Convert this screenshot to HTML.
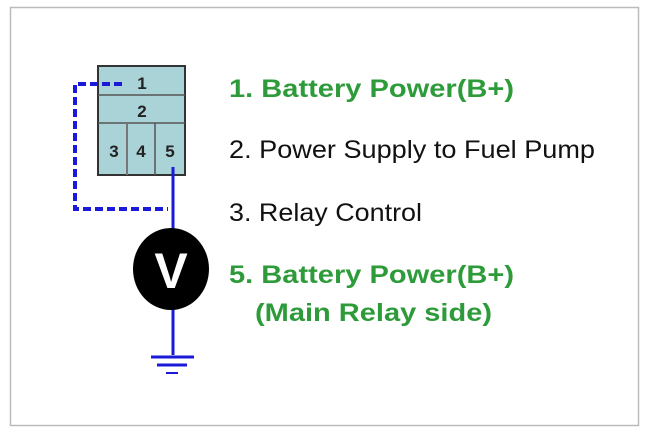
<!DOCTYPE html>
<html><head><style>
html,body{margin:0;padding:0;background:#fff;}
svg{display:block;}
text{font-family:"Liberation Sans",Arial,sans-serif;}
</style></head><body>
<svg width="646" height="438" viewBox="0 0 646 438">
<rect x="10.5" y="7.5" width="628" height="418" fill="#fff" stroke="#bbb" stroke-width="1.5"/>
<!-- connector -->
<rect x="98" y="66" width="87" height="109" fill="#a9d3d6" stroke="#333" stroke-width="2"/>
<line x1="98" y1="95" x2="185" y2="95" stroke="#555" stroke-width="1.5"/>
<line x1="98" y1="123" x2="185" y2="123" stroke="#555" stroke-width="1.5"/>
<line x1="127" y1="123" x2="127" y2="175" stroke="#777" stroke-width="2"/>
<line x1="155" y1="123" x2="155" y2="175" stroke="#555" stroke-width="1.5"/>
<g font-weight="bold" font-size="17" fill="#222" text-anchor="middle">
<text x="142" y="89">1</text>
<text x="142" y="117">2</text>
<text x="114" y="157">3</text>
<text x="141" y="157">4</text>
<text x="170" y="157">5</text>
</g>
<!-- dashed -->
<polyline points="122,84 75,84 75,209 168,209" fill="none" stroke="#1a1ad8" stroke-width="4" stroke-dasharray="8,4"/>
<!-- solid -->
<line x1="173" y1="167" x2="173" y2="355" stroke="#1a1ad8" stroke-width="3"/>
<ellipse cx="171" cy="269" rx="38" ry="41" fill="#000"/>
<text x="171" y="288" font-size="50" font-weight="bold" fill="#fff" text-anchor="middle">V</text>
<line x1="151" y1="357" x2="194" y2="357" stroke="#1a1ad8" stroke-width="3"/>
<line x1="157" y1="365" x2="187" y2="365" stroke="#1a1ad8" stroke-width="3"/>
<line x1="166" y1="373" x2="178" y2="373" stroke="#1a1ad8" stroke-width="2"/>
<!-- labels -->
<g font-size="25">
<text x="229" y="97" fill="#2e9b3a" font-weight="bold" textLength="285" lengthAdjust="spacingAndGlyphs">1. Battery Power(B+)</text>
<text x="229" y="158" fill="#111" textLength="366" lengthAdjust="spacingAndGlyphs">2. Power Supply to Fuel Pump</text>
<text x="229" y="221" fill="#111" textLength="193" lengthAdjust="spacingAndGlyphs">3. Relay Control</text>
<text x="229" y="283" fill="#2e9b3a" font-weight="bold" textLength="285" lengthAdjust="spacingAndGlyphs">5. Battery Power(B+)</text>
<text x="255" y="321" fill="#2e9b3a" font-weight="bold" textLength="237" lengthAdjust="spacingAndGlyphs">(Main Relay side)</text>
</g>
</svg>
</body></html>
